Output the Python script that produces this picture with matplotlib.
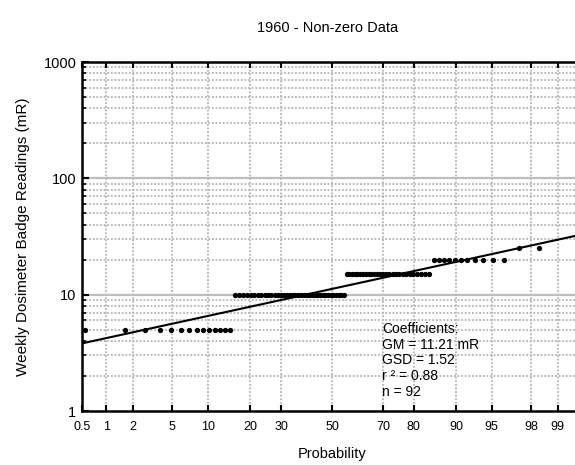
from statistics import NormalDist

import numpy as np
import matplotlib
matplotlib.use('Agg')
import matplotlib.pyplot as plt
from matplotlib.ticker import FixedLocator, NullFormatter, LogLocator

plt.rcParams['font.family'] = ['Liberation Sans', 'DejaVu Sans']

# Weekly badge readings (mR) and how many weeks gave each reading
dose_levels = [5, 10, 15, 20, 25]
dose_counts = [14, 37, 27, 11, 3]

# Regression results for the lognormal fit
gm = 11.21
gsd = 1.52
r_sq = 0.88

prob_ticks = [0.5, 1, 2, 5, 10, 20, 30, 50, 70, 80, 90, 95, 98, 99]
prob_labels = ['0.5', '1', '2', '5', '10', '20', '30', '50', '70', '80', '90', '95', '98', '99']

nd = NormalDist()
_ppf = np.vectorize(lambda v: nd.inv_cdf(v / 100.0) if np.isfinite(v) else np.nan, otypes=[float])
_cdf = np.vectorize(lambda v: 100.0 * nd.cdf(v) if np.isfinite(v) else np.nan, otypes=[float])


def prob_fwd(p):
    p = np.clip(np.asarray(p, dtype=float), 1e-6, 100 - 1e-6)
    return _ppf(p)


def prob_inv(z):
    return _cdf(np.asarray(z, dtype=float))


# Sorted readings with (i - 0.5)/n plotting positions
readings = np.repeat(dose_levels, dose_counts)
n = len(readings)
ranks = np.arange(1, n + 1)
prob = 100.0 * (ranks - 0.5) / n

fig = plt.figure(figsize=(5.75, 4.65), dpi=100)
ax = fig.add_axes([82 / 575, 1 - 411 / 465, 500 / 575, 349 / 465])
ax.set_xscale('function', functions=(prob_fwd, prob_inv))
ax.set_yscale('log')
ax.set_xlim(0.5, 99.5)
ax.set_ylim(1, 1000)

# grid: dotted verticals at the probability ticks, dotted minor decades, solid majors
for p in prob_ticks[1:]:
    ax.axvline(p, color='#b4b4b4', lw=1.3, ls=(0, (1, 1)), zorder=1)
for dec in [1, 10, 100]:
    for k in range(2, 10):
        ax.axhline(dec * k, color='#b4b4b4', lw=1.3, ls=(0, (1, 1)), zorder=1)
for v in [10, 100]:
    ax.axhline(v, color='#bdbdbd', lw=1.6, zorder=1)

# fitted lognormal line
p_fit = np.linspace(0.5, 99.5, 50)
ax.plot(p_fit, gm * gsd ** prob_fwd(p_fit), color='black', lw=1.5, zorder=3)

ax.plot(prob, readings, 'o', color='black', ms=3.8, mec='none', zorder=4)

ax.xaxis.set_major_locator(FixedLocator(prob_ticks))
ax.xaxis.set_minor_locator(FixedLocator([]))
ax.set_xticklabels(prob_labels)
ax.set_yticks([1, 10, 100, 1000])
ax.set_yticklabels(['1', '10', '100', '1000'])
ax.yaxis.set_minor_locator(LogLocator(base=10, subs=np.arange(2, 10), numticks=20))
ax.yaxis.set_minor_formatter(NullFormatter())

ax.tick_params(axis='x', which='major', direction='in', top=True, length=4, width=1.5,
               labelsize=9, pad=7)
ax.tick_params(axis='y', which='major', direction='in', length=5, width=1.5, labelsize=10.5, pad=4)
ax.tick_params(axis='y', which='minor', direction='in', length=3, width=1.2)

for side in ['left', 'bottom', 'top']:
    ax.spines[side].set_linewidth(1.8)
ax.spines['right'].set_visible(False)

ax.set_xlabel('Probability', fontsize=10.5, labelpad=10)
ax.set_ylabel('Weekly Dosimeter Badge Readings (mR)', fontsize=11, labelpad=10)
fig.text(328 / 575, 1 - 28 / 465, '1960 - Non-zero Data', ha='center', va='center', fontsize=10.5)

ax.text(0.600, 0.255,
        'Coefficients:\nGM = %.2f mR\nGSD = %.2f\nr ² = %.2f\nn = %d' % (gm, gsd, r_sq, n),
        transform=ax.transAxes, fontsize=10, va='top', ha='left', linespacing=1.15, zorder=5)

fig.savefig('out.png', dpi=100)
